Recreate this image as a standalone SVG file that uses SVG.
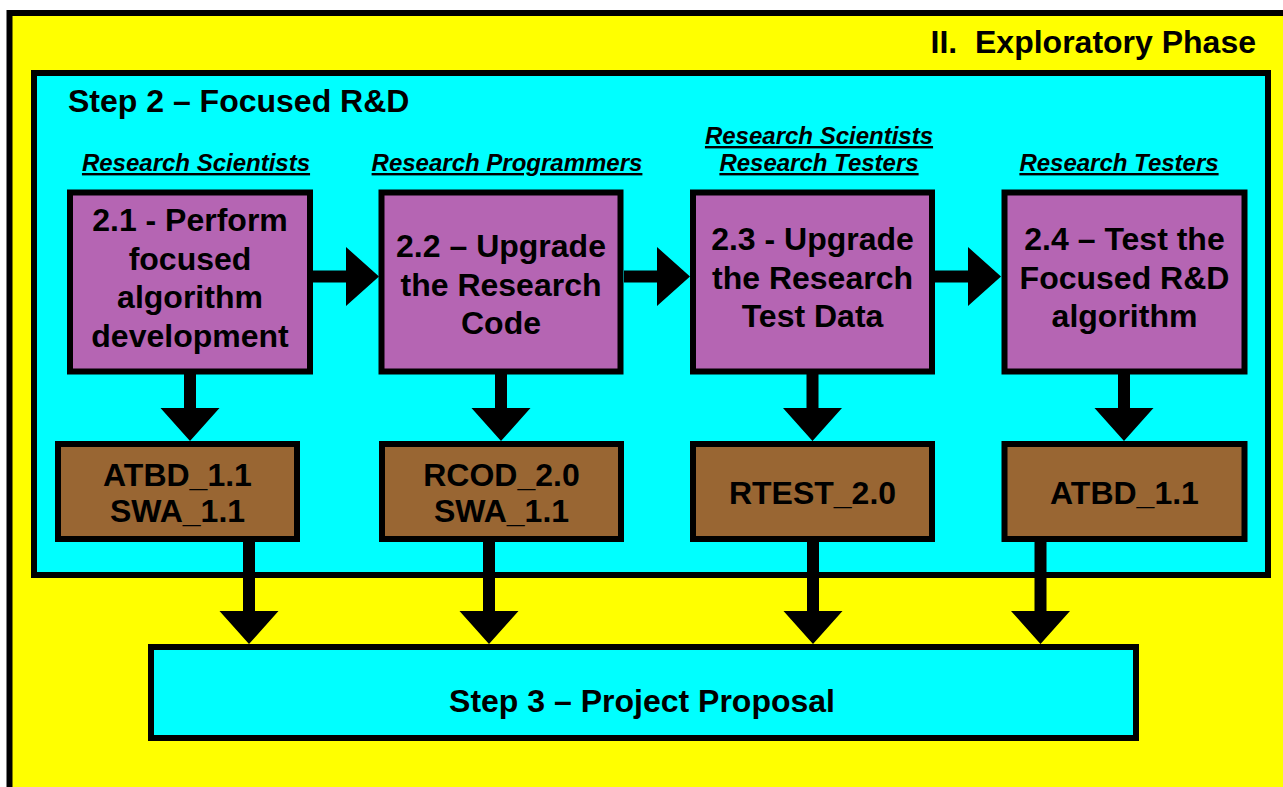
<svg xmlns="http://www.w3.org/2000/svg" width="1283" height="787" viewBox="0 0 1283 787">
<style>
text{font-family:"Liberation Sans",Arial,sans-serif;font-weight:bold;fill:#000;}
.t32{font-size:32px;text-anchor:middle;}
.role{font-size:24px;font-style:italic;text-anchor:middle;text-decoration:underline;}
.box{stroke:#000;stroke-width:6;}
.purple{fill:#B565B3;}
.brown{fill:#996633;}
.cyan{fill:#00FFFF;}
.arrow{fill:#000;stroke:none;}
</style>
<rect width="1283" height="787" fill="#FFFFFF"/>
<g id="phase">
<rect x="9.5" y="13" width="1290" height="800" fill="#FFFF00" stroke="#000" stroke-width="6"/>
<text x="1256" y="53" style="font-size:32px;text-anchor:end;" xml:space="preserve">II.  Exploratory Phase</text>
</g>
<g id="step2">
<rect class="box cyan" x="34" y="73" width="1234" height="502"/>
<text x="68" y="112" style="font-size:32px;">Step 2 – Focused R&amp;D</text>
</g>
<g id="roles">
<text class="role" x="196" y="171">Research Scientists</text>
<text class="role" x="507" y="171">Research Programmers</text>
<text class="role" x="819" y="144">Research Scientists</text>
<text class="role" x="819" y="171">Research Testers</text>
<text class="role" x="1119" y="171">Research Testers</text>
</g>
<g id="task21">
<rect class="box purple" x="70" y="192.5" width="240" height="179"/>
<text class="t32" x="190" y="231">2.1 - Perform</text>
<text class="t32" x="190" y="270">focused</text>
<text class="t32" x="190" y="308">algorithm</text>
<text class="t32" x="190" y="347">development</text>
</g>
<g id="task22">
<rect class="box purple" x="381.5" y="192.5" width="239" height="179"/>
<text class="t32" x="501" y="257">2.2 – Upgrade</text>
<text class="t32" x="501" y="296">the Research</text>
<text class="t32" x="501" y="334">Code</text>
</g>
<g id="task23">
<rect class="box purple" x="693" y="192.5" width="239" height="179"/>
<text class="t32" x="812.5" y="250">2.3 - Upgrade</text>
<text class="t32" x="812.5" y="289">the Research</text>
<text class="t32" x="812.5" y="327">Test Data</text>
</g>
<g id="task24">
<rect class="box purple" x="1004.5" y="192.5" width="240" height="179"/>
<text class="t32" x="1124.5" y="250">2.4 – Test the</text>
<text class="t32" x="1124.5" y="289">Focused R&amp;D</text>
<text class="t32" x="1124.5" y="327">algorithm</text>
</g>
<g id="out21">
<rect class="box brown" x="58" y="444" width="239" height="95"/>
<text class="t32" x="177.5" y="486">ATBD_1.1</text>
<text class="t32" x="177.5" y="522">SWA_1.1</text>
</g>
<g id="out22">
<rect class="box brown" x="382" y="444" width="239" height="95"/>
<text class="t32" x="501.5" y="486">RCOD_2.0</text>
<text class="t32" x="501.5" y="522">SWA_1.1</text>
</g>
<g id="out23">
<rect class="box brown" x="693" y="444" width="239" height="95"/>
<text class="t32" x="812.5" y="504">RTEST_2.0</text>
</g>
<g id="out24">
<rect class="box brown" x="1004.5" y="444" width="240" height="95"/>
<text class="t32" x="1124.5" y="504">ATBD_1.1</text>
</g>
<g id="step3">
<rect class="box cyan" x="151" y="647" width="985" height="91"/>
<text class="t32" x="642" y="712">Step 3 – Project Proposal</text>
</g>
<g id="connectors">
<defs>
<path id="hArrow" d="M0,-6 H33 V-29.5 L66,0 L33,29.5 V6 H0 Z"/>
<path id="vArrowShort" d="M-6,0 H6 V34 H29.5 L0,67 L-29.5,34 H-6 Z"/>
<path id="vArrowLong" d="M-6,0 H6 V69 H29.5 L0,102 L-29.5,69 H-6 Z"/>
</defs>
<use href="#hArrow" class="arrow" x="313" y="276.5"/>
<use href="#hArrow" class="arrow" x="624" y="276.5"/>
<use href="#hArrow" class="arrow" x="935" y="276.5"/>
<use href="#vArrowShort" class="arrow" x="190" y="374"/>
<use href="#vArrowShort" class="arrow" x="501" y="374"/>
<use href="#vArrowShort" class="arrow" x="812.5" y="374"/>
<use href="#vArrowShort" class="arrow" x="1124" y="374"/>
<use href="#vArrowLong" class="arrow" x="249" y="542"/>
<use href="#vArrowLong" class="arrow" x="489" y="542"/>
<use href="#vArrowLong" class="arrow" x="813" y="542"/>
<use href="#vArrowLong" class="arrow" x="1040.5" y="542"/>
</g>
</svg>
